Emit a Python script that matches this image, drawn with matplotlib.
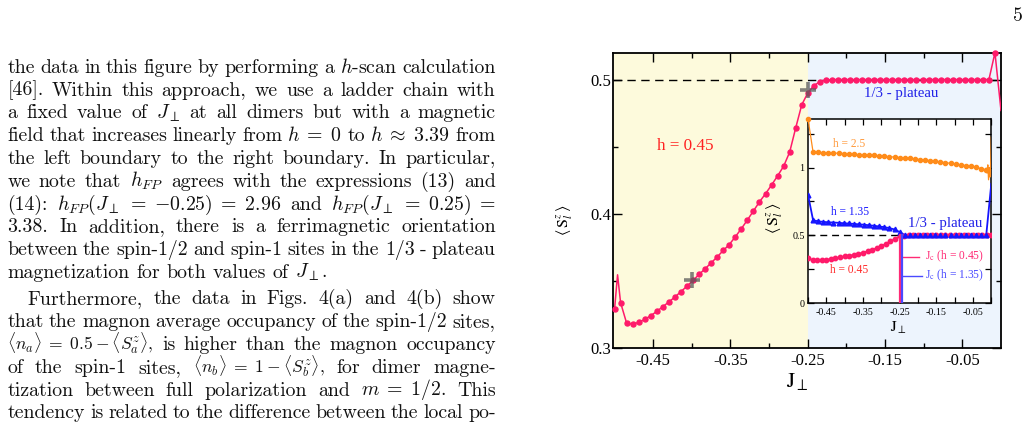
import numpy as np
import matplotlib
matplotlib.use('Agg')
import matplotlib.pyplot as plt
from matplotlib.ticker import FixedLocator, FixedFormatter, NullFormatter

plt.rcParams['axes.unicode_minus'] = False

# ---------------- data ----------------
# main panel, h = 0.45 (dots)
main_J = np.linspace(-0.5, 0.0, 65)[:64]
main_S = [0.329, 0.334, 0.3187, 0.318, 0.3193, 0.3215, 0.3243, 0.3275, 0.331, 0.3345,
          0.3382, 0.3422, 0.3463, 0.3505, 0.355, 0.3592, 0.3636, 0.368, 0.3728, 0.3772,
          0.383, 0.389, 0.3955, 0.4022, 0.409, 0.415, 0.4215, 0.4283, 0.4355, 0.446,
          0.464, 0.4812, 0.49, 0.4955, 0.4984, 0.4996, 0.5, 0.5, 0.5, 0.5,
          0.5, 0.5, 0.5, 0.5, 0.5, 0.5, 0.5, 0.5, 0.5, 0.5,
          0.5, 0.5, 0.5, 0.5, 0.5, 0.5, 0.5, 0.5, 0.5, 0.5,
          0.5, 0.5, 0.5, 0.52]
# extra line-only samples (boundary spikes)
main_extra_J = [-0.4961, 0.0]
main_extra_S = [0.3547, 0.477]
cross_J = [-0.40, -0.25]
cross_S = [0.3505, 0.492]
plateau_level = 0.5
region_edges = [-0.502, -0.25, 0.0]

main_xticks = [-0.45, -0.35, -0.25, -0.15, -0.05]
main_xticklabels = ['-0.45', '-0.35', '-0.25', '-0.15', '-0.05']
main_xminor = [-0.4, -0.3, -0.2, -0.1]
main_yticks = [0.3, 0.4, 0.5]
main_yticklabels = ['0.3', '0.4', '0.5']
main_yminor = [0.35, 0.45]

# inset, h = 0.45
inset_J45 = np.linspace(-0.5, 0.0, 41)
inset_S45 = [0.334, 0.320, 0.316, 0.318, 0.322, 0.327, 0.333, 0.339, 0.345, 0.351,
             0.358, 0.366, 0.374, 0.384, 0.395, 0.408, 0.423, 0.439, 0.458, 0.477,
             0.493, 0.499, 0.5, 0.5, 0.5, 0.5, 0.5, 0.5, 0.5, 0.5,
             0.5, 0.5, 0.5, 0.5, 0.5, 0.5, 0.5, 0.5, 0.5, 0.5, 0.5]
# inset, h = 2.5
inset_J25 = np.linspace(-0.5, 0.0, 37)[:36]
inset_S25 = [1.36, 1.113, 1.112, 1.110, 1.108, 1.107, 1.105, 1.103, 1.100, 1.097,
             1.095, 1.093, 1.091, 1.089, 1.086, 1.083, 1.080, 1.077, 1.074, 1.071,
             1.067, 1.063, 1.059, 1.055, 1.051, 1.046, 1.041, 1.036, 1.031, 1.026,
             1.020, 1.014, 1.008, 1.001, 0.993, 0.983]
inset_J25_extra = [-0.0115, -0.0095, -0.0075, -0.0055, -0.0035, -0.0015, 0.0]
inset_S25_extra = [0.96, 1.02, 0.91, 1.00, 0.93, 1.05, 1.225]
# inset, h = 1.35
inset_J135 = np.linspace(-0.5, 0.0, 37)[:36]
inset_S135 = [0.80, 0.612, 0.604, 0.600, 0.597, 0.595, 0.593, 0.590, 0.588, 0.585,
              0.582, 0.579, 0.575, 0.571, 0.566, 0.561, 0.554, 0.544, 0.525, 0.503,
              0.5, 0.5, 0.5, 0.5, 0.5, 0.5, 0.5, 0.5, 0.5, 0.5,
              0.5, 0.5, 0.5, 0.5, 0.5, 0.5]
inset_J135_extra = [0.0]
inset_S135_extra = [0.88]
jc_values = [-0.2485, -0.2435]
jc_labels = ['J$_\\mathrm{c}$ (h = 0.45)', 'J$_\\mathrm{c}$ (h = 1.35)']
jc_label_S = [0.343, 0.203]
jc_seg_end = [-0.198, -0.189]

inset_xminor = [-0.5, -0.4, -0.3, -0.2, -0.1, 0.0]
inset_yticks = [0, 0.5, 1]
inset_yticklabels = ['0', '0.5', '1']
inset_yminor = [0.25, 0.75, 1.25]

# ---------------- styles ----------------
PINK = '#ff1a6a'
ORANGE = '#ff8c1a'
BLUE = '#1515ff'
YELLOW_BG = '#fdfadc'
BLUE_BG = '#edf4fd'
SERIF = 'Liberation Serif'

W, H = 1029, 424
fig = plt.figure(figsize=(W / 100, H / 100), dpi=100)


def fx(px):
    return px / W


def fy(py):
    return 1 - py / H


# ---------------- main axes ----------------
ax = fig.add_axes([fx(613), fy(348.3), (1001 - 613) / W, (348.3 - 52.7) / H])
ax.set_xlim(region_edges[0], region_edges[-1])
ax.set_ylim(0.3, 0.52)
ax.axvspan(region_edges[0], region_edges[1], color=YELLOW_BG, lw=0, zorder=0)
ax.axvspan(region_edges[1], region_edges[2], color=BLUE_BG, lw=0, zorder=0)
ax.axhline(plateau_level, color='black', lw=1.0, ls=(0, (6, 4)), zorder=1)

line_J = list(main_J) + main_extra_J
line_S = list(main_S) + main_extra_S
order = np.argsort(line_J)
ax.plot(np.array(line_J)[order], np.array(line_S)[order], color=PINK, lw=1.1, zorder=3)
ax.plot(main_J, main_S, 'o', color=PINK, ms=3.6, zorder=4, clip_on=False)
ax.plot(cross_J, cross_S, '+', color='#5a5a5a', alpha=0.75, ms=12, mew=2.6, zorder=5)

ax.xaxis.set_major_locator(FixedLocator(main_xticks))
ax.xaxis.set_major_formatter(FixedFormatter(main_xticklabels))
ax.xaxis.set_minor_locator(FixedLocator(main_xminor))
ax.yaxis.set_major_locator(FixedLocator(main_yticks))
ax.yaxis.set_major_formatter(FixedFormatter(main_yticklabels))
ax.yaxis.set_minor_locator(FixedLocator(main_yminor))
ax.xaxis.set_minor_formatter(NullFormatter())
ax.yaxis.set_minor_formatter(NullFormatter())
ax.tick_params(which='both', direction='in', top=True, right=True, width=1.0)
ax.tick_params(which='major', length=6.5)
ax.tick_params(which='minor', length=3.5)
ax.tick_params(axis='x', which='major', pad=3.5)
ax.tick_params(axis='y', which='major', pad=1.5)
for lab in ax.get_xticklabels() + ax.get_yticklabels():
    lab.set_fontfamily(SERIF)
    lab.set_fontsize(12)
for s in ax.spines.values():
    s.set_linewidth(1.3)

ax.text(-0.408, 0.4477, 'h = 0.45', color='#ff2020', fontsize=12.3, family=SERIF,
        ha='center', va='baseline')
ax.text(-0.1285, 0.4874, '1/3 - plateau', color='#2222e8', fontsize=10.7, family=SERIF,
        ha='center', va='baseline')

fig.text(fx(797), fy(386.7), r'$\mathrm{J}_{\perp}$', fontsize=16, ha='center',
         va='baseline', math_fontfamily='stix', family=SERIF)
fig.text(fx(565), fy(220), r'$\langle\,\mathrm{S}^{z}_{l}\,\rangle$', fontsize=11.5,
         rotation=90, ha='center', va='center', math_fontfamily='stix', family=SERIF)

# ---------------- inset ----------------
ax2 = fig.add_axes([fx(808), fy(303.3), (991.3 - 808) / W, (303.3 - 118.7) / H])
ax2.set_facecolor('white')
ax2.set_xlim(-0.5, 0.0)
ax2.set_ylim(0, 1.36)
ax2.axhline(plateau_level, color='black', lw=1.0, ls=(0, (5, 3.5)), zorder=1)

o_J = list(inset_J25) + inset_J25_extra
o_S = list(inset_S25) + inset_S25_extra
ax2.plot(o_J, o_S, color=ORANGE, lw=0.9, zorder=3)
ax2.plot(inset_J25, inset_S25, 'o', color=ORANGE, ms=3.0, zorder=4, clip_on=False)

b_J = list(inset_J135) + inset_J135_extra
b_S = list(inset_S135) + inset_S135_extra
ax2.plot(b_J, b_S, color=BLUE, lw=1.3, zorder=3)
ax2.plot(inset_J135, inset_S135, '^', color=BLUE, ms=3.4, zorder=4)

ax2.plot(inset_J45, inset_S45, color=PINK, lw=1.0, zorder=3)
ax2.plot(inset_J45, inset_S45, 'o', color=PINK, ms=3.2, zorder=3.5)

jc_colors = ['#ff2a75', '#4a4aff']
for jc, ly, xe, lab, c in zip(jc_values, jc_label_S, jc_seg_end, jc_labels, jc_colors):
    ax2.plot([jc, jc], [0, plateau_level], color=c, lw=1.6, zorder=5)
    ax2.plot([jc, xe], [ly, ly], color=c, lw=1.0, zorder=5)
    ax2.text(-0.180, ly, lab, color=c, fontsize=8.3, family=SERIF,
             math_fontfamily='stix', ha='left', va='center')

ax2.text(-0.3865, 1.15, 'h = 2.5', color='#ff9a3c', fontsize=8.3, family=SERIF,
         ha='center', va='baseline')
ax2.text(-0.3865, 0.649, 'h = 1.35', color='#1a1aff', fontsize=8.3, family=SERIF,
         ha='center', va='baseline')
ax2.text(-0.3865, 0.224, 'h = 0.45', color='#ff2a2a', fontsize=8.3, family=SERIF,
         ha='center', va='baseline')
ax2.text(-0.125, 0.564, '1/3 - plateau', color='#2222e8', fontsize=10.7, family=SERIF,
         ha='center', va='baseline')

ax2.xaxis.set_major_locator(FixedLocator(main_xticks))
ax2.xaxis.set_major_formatter(FixedFormatter(main_xticklabels))
ax2.xaxis.set_minor_locator(FixedLocator(inset_xminor))
ax2.yaxis.set_major_locator(FixedLocator(inset_yticks))
ax2.yaxis.set_major_formatter(FixedFormatter(inset_yticklabels))
ax2.yaxis.set_minor_locator(FixedLocator(inset_yminor))
ax2.xaxis.set_minor_formatter(NullFormatter())
ax2.yaxis.set_minor_formatter(NullFormatter())
ax2.tick_params(which='both', direction='in', top=True, right=True, width=0.9, length=4.5)
ax2.tick_params(axis='x', which='major', pad=3.5)
ax2.tick_params(axis='y', which='major', pad=2.5)
for lab in ax2.get_xticklabels() + ax2.get_yticklabels():
    lab.set_fontfamily(SERIF)
    lab.set_fontsize(7.2)
for s in ax2.spines.values():
    s.set_linewidth(1.1)

fig.text(fx(899), fy(331.7), r'$\mathrm{J}_{\perp}$', fontsize=11.5, ha='center',
         va='baseline', math_fontfamily='stix', family=SERIF)
fig.text(fx(775), fy(218), r'$\langle\,\mathrm{S}^{z}_{l}\,\rangle$', fontsize=11.5,
         rotation=90, ha='center', va='center', math_fontfamily='stix', family=SERIF)

# ---------------- page text ----------------
BODY = 14.3
MATH_SMALL = 12.6
renderer = fig.canvas.get_renderer()


def tok_size(s):
    return MATH_SMALL if '\\langle' in s else BODY


def tok_width(s):
    t = fig.text(0, 0, s, fontsize=tok_size(s), family='cmr10', math_fontfamily='cm')
    w = t.get_window_extent(renderer=renderer).width
    t.remove()
    return w


para_lines = [
    (['the', 'data', 'in', 'this', 'figure', 'by', 'performing', 'a', '$h$-scan', 'calculation'], 72.7, 0, True),
    (['[46].', 'Within', 'this', 'approach,', 'we', 'use', 'a', 'ladder', 'chain', 'with'], 95.5, 0, True),
    (['a', 'fixed', 'value', 'of', r'$J_{\perp}$', 'at', 'all', 'dimers', 'but', 'with', 'a', 'magnetic'], 118.3, 0, True),
    (['field', 'that', 'increases', 'linearly', 'from', r'$h\;=\;0$', 'to', r'$h\;\approx\;3.39$', 'from'], 141.1, 0, True),
    (['the', 'left', 'boundary', 'to', 'the', 'right', 'boundary.', 'In', 'particular,'], 163.9, 0, True),
    (['we', 'note', 'that', '$h_{FP}$', 'agrees', 'with', 'the', 'expressions', '(13)', 'and'], 186.7, 0, True),
    (['(14):', r'$h_{FP}(J_{\perp}\;=\;{-0.25})\;=\;2.96$', 'and', r'$h_{FP}(J_{\perp}\;=\;0.25)\;=$'], 209.5, 0, True),
    (['3.38.', 'In', 'addition,', 'there', 'is', 'a', 'ferrimagnetic', 'orientation'], 232.3, 0, True),
    (['between', 'the', 'spin-1/2', 'and', 'spin-1', 'sites', 'in', 'the', '1/3', '-', 'plateau'], 255.1, 0, True),
    (['magnetization', 'for', 'both', 'values', 'of', r'$J_{\perp}$.'], 277.9, 0, False),
    (['Furthermore,', 'the', 'data', 'in', 'Figs.', '4(a)', 'and', '4(b)', 'show'], 304.3, 20.4, True),
    (['that', 'the', 'magnon', 'average', 'occupancy', 'of', 'the', 'spin-1/2', 'sites,'], 327.1, 0, True),
    ([r'$\langle n_a\rangle\;=\;0.5 - \langle S^z_a\rangle$,', 'is', 'higher', 'than', 'the', 'magnon', 'occupancy'], 349.9, 0, True),
    (['of', 'the', 'spin-1', 'sites,', r'$\langle n_b\rangle\;=\;1 - \langle S^z_b\rangle$,', 'for', 'dimer', 'magne-'], 372.7, 0, True),
    (['tization', 'between', 'full', 'polarization', 'and', r'$m\;=\;1/2$.', 'This'], 395.5, 0, True),
    (['tendency', 'is', 'related', 'to', 'the', 'difference', 'between', 'the', 'local', 'po-'], 418.3, 0, True),
]

LEFT, RIGHT = 7.3, 495.7
for tokens, base, indent, justify in para_lines:
    widths = [tok_width(t) for t in tokens]
    left = LEFT + indent
    if justify and len(tokens) > 1:
        gap = (RIGHT - left - sum(widths)) / (len(tokens) - 1)
    else:
        gap = 6.5
    x = left
    for t, w in zip(tokens, widths):
        fig.text(x / W, fy(base), t, fontsize=tok_size(t), family='cmr10', math_fontfamily='cm',
                 ha='left', va='baseline', color='#111111')
        x += w + gap

fig.text(fx(1017.5), fy(20.7), '5', fontsize=BODY, family='cmr10', ha='center',
         va='baseline', color='#111111')

fig.savefig('out.png', dpi=100)
